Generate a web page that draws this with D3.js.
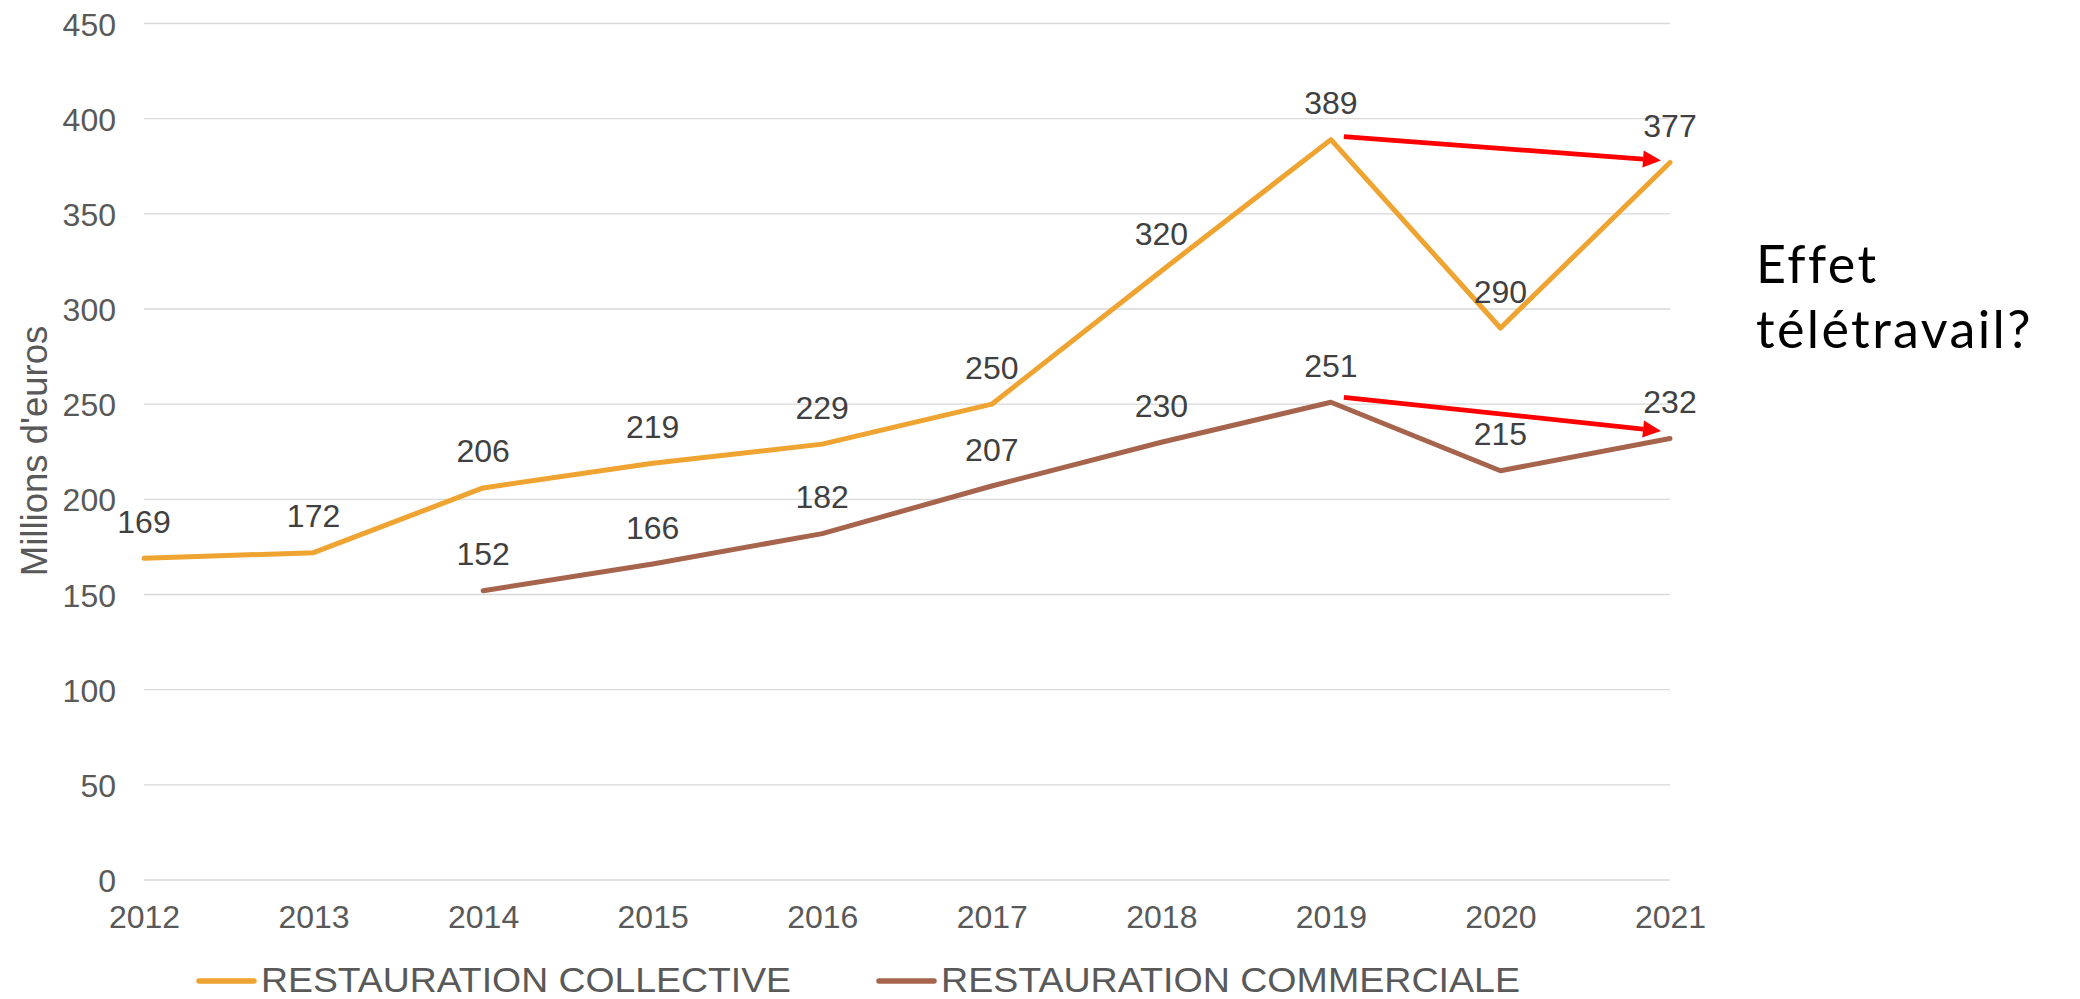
<!DOCTYPE html>
<html>
<head>
<meta charset="utf-8">
<script src="https://cdn.jsdelivr.net/npm/d3@7"></script>
<style>
  html, body { margin: 0; padding: 0; background: #fff; }
  svg { display: block; }
</style>
</head>
<body>
<svg id="chart" width="2080" height="999"></svg>
<script>
// ---- data ----
const years = [2012, 2013, 2014, 2015, 2016, 2017, 2018, 2019, 2020, 2021];
const collective = [169, 172, 206, 219, 229, 250, 320, 389, 290, 377];
const commerciale = [null, null, 152, 166, 182, 207, 230, 251, 215, 232];
const yTicks = [0, 50, 100, 150, 200, 250, 300, 350, 400, 450];
const seriesNames = ["RESTAURATION COLLECTIVE", "RESTAURATION COMMERCIALE"];
const seriesColors = ["#EFA330", "#A6644C"];
const yTitle = "Millions d'euros";
const noteLines = ["Effet", "télétravail?"];
// arrows: [fromYear, fromValue, toYear, toValue]
const arrows = [[2019, 389, 2021, 377], [2019, 251, 2021, 232]];

// ---- layout ----
const svg = d3.select("#chart");
const plotLeft = 144, plotRight = 1670, plotTop = 23.5, plotBottom = 880;
const x = d3.scalePoint().domain(years).range([plotLeft, plotRight]);
const y = d3.scaleLinear().domain([0, 450]).range([plotBottom, plotTop]);
const fontAxis = "Liberation Sans, Arial, sans-serif";

// gridlines
svg.append("g").selectAll("line").data(yTicks).join("line")
  .attr("x1", plotLeft).attr("x2", plotRight)
  .attr("y1", d => y(d)).attr("y2", d => y(d))
  .attr("stroke", "#d9d9d9").attr("stroke-width", 1.4);

// y axis labels
const yAxis = d3.axisLeft(y).tickValues(yTicks).tickSize(0).tickPadding(0);
const gy = svg.append("g").attr("transform", `translate(116,0)`).call(yAxis);
gy.select(".domain").remove();
gy.selectAll("text").attr("font-family", fontAxis).attr("font-size", 32)
  .attr("fill", "#595959").attr("dy", "0.36em").attr("text-anchor", "end");

// x axis labels
const xAxis = d3.axisBottom(x).tickSize(0).tickPadding(0);
const gx = svg.append("g").attr("transform", `translate(0,928)`).call(xAxis);
gx.select(".domain").remove();
gx.selectAll("text").attr("font-family", fontAxis).attr("font-size", 32)
  .attr("fill", "#595959").attr("dy", 0).attr("y", 0);

// y title
svg.append("text")
  .attr("transform", "translate(47,451) rotate(-90)")
  .attr("text-anchor", "middle")
  .attr("font-family", fontAxis).attr("font-size", 36.5).attr("fill", "#595959")
  .text(yTitle);

// lines
const allSeries = [collective, commerciale];
const line = d3.line()
  .defined(d => d.v != null)
  .x(d => x(d.year)).y(d => y(d.v));
allSeries.forEach((s, i) => {
  const pts = years.map((yr, j) => ({year: yr, v: s[j]}));
  svg.append("path").datum(pts)
    .attr("d", line).attr("fill", "none")
    .attr("stroke", seriesColors[i]).attr("stroke-width", 5)
    .attr("stroke-linejoin", "round").attr("stroke-linecap", "round");
});

// arrows
arrows.forEach(([fy, fv, ty, tv], i) => {
  const x1 = x(fy) + 13, y1 = y(fv) - (i === 0 ? 3 : 5);
  const x2 = x(ty) - 9, y2 = y(tv) - (i === 0 ? 2 : 7.5);
  const ang = Math.atan2(y2 - y1, x2 - x1);
  const hl = 18, hw = 8.5;
  const bx = x2 - hl * Math.cos(ang), by = y2 - hl * Math.sin(ang);
  svg.append("line").attr("x1", x1).attr("y1", y1).attr("x2", bx).attr("y2", by)
    .attr("stroke", "#FF0000").attr("stroke-width", 4.8);
  const px = -Math.sin(ang) * hw, py = Math.cos(ang) * hw;
  svg.append("path")
    .attr("d", `M${x2},${y2}L${bx + px},${by + py}L${bx - px},${by - py}Z`)
    .attr("fill", "#FF0000");
});

// data labels
allSeries.forEach((s, i) => {
  svg.append("g").selectAll("text")
    .data(years.map((yr, j) => ({year: yr, v: s[j]})).filter(d => d.v != null))
    .join("text")
    .attr("x", d => x(d.year)).attr("y", d => y(d.v) - 25.5)
    .attr("text-anchor", "middle")
    .attr("font-family", fontAxis).attr("font-size", 32).attr("fill", "#404040")
    .text(d => d.v);
});

// legend
const legendX = [199, 879];
const legendTextLen = [530, 579];
seriesNames.forEach((name, i) => {
  const g = svg.append("g");
  g.append("line").attr("x1", legendX[i]).attr("x2", legendX[i] + 55)
    .attr("y1", 981).attr("y2", 981)
    .attr("stroke", seriesColors[i]).attr("stroke-width", 5.5).attr("stroke-linecap", "round");
  g.append("text").attr("x", legendX[i] + 62).attr("y", 992)
    .attr("font-family", fontAxis).attr("font-size", 35).attr("fill", "#595959")
    .attr("textLength", legendTextLen[i]).attr("lengthAdjust", "spacingAndGlyphs")
    .text(name);
});

// annotation
svg.append("g").selectAll("text").data(noteLines).join("text")
  .attr("x", 1756).attr("y", (d, i) => 283 + i * 65)
  .attr("font-family", "Lato, 'Noto Sans', sans-serif").attr("font-size", 52)
  .attr("font-weight", 400).attr("letter-spacing", 2.4).attr("fill", "#000")
  .text(d => d);
</script>
</body>
</html>
